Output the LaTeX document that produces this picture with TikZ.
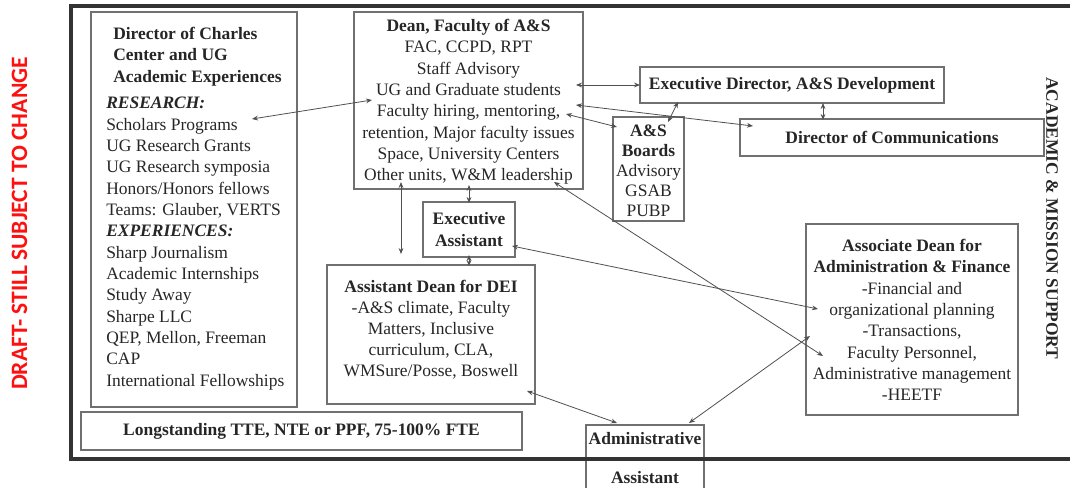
\documentclass[tikz,border=0pt]{standalone}
\usepackage{fontspec}
\setmainfont{Liberation Serif}
\newfontfamily\redfont{Carlito}
\usetikzlibrary{arrows.meta,fit}
\definecolor{boxc}{HTML}{707070}
\definecolor{linec}{HTML}{505050}
\definecolor{txtc}{HTML}{262626}
\definecolor{framec}{HTML}{333333}
\definecolor{draftred}{HTML}{FF1010}
\begin{document}
\begin{tikzpicture}[x=0.75pt,y=-0.75pt,
  box/.style={draw=boxc, line width=0.8pt, inner sep=0pt},
  txt/.style={text=txtc, font=\fontsize{13.1}{16}\selectfont, align=center, inner sep=0pt},
  conn/.style={draw=linec, line width=0.6pt, {Stealth[length=4.5pt,width=3.6pt]}-{Stealth[length=4.5pt,width=3.6pt]}}]
\useasboundingbox (0,0) rectangle (1070,488);

% boxes
\node[box, fit={(91,12) (297,407)}] (charles) {};
\node[box, fit={(354,12) (583,189)}] (dean) {};
\node[box, fit={(640,67) (944,103)}] (execdir) {};
\node[box, fit={(740,119) (1044,156)}] (comm) {};
\node[box, fit={(613,117) (684,221)}] (boards) {};
\node[box, fit={(423,202) (515,257)}] (execasst) {};
\node[box, fit={(327,265) (535,404)}] (dei) {};
\node[box, fit={(806,224) (1018,415)}] (assoc) {};
\node[box, fit={(81,412) (522,450)}] (long) {};
\node[box, fit={(586,425) (704,510)}] (admin) {};

% texts
\node[txt, align=left, anchor=west] (charlest) at (106,208.5) {%
\hspace*{5.25pt}\textbf{Director of Charles}\\
\hspace*{5.25pt}\textbf{Center and UG}\\
\hspace*{5.25pt}\textbf{Academic Experiences}\\[4pt]
\textbf{\textit{RESEARCH:}}\\
Scholars Programs\\
UG Research Grants\\
UG Research symposia\\
Honors/Honors fellows\\
Teams: Glauber, VERTS\\
\textbf{\textit{EXPERIENCES:}}\\
Sharp Journalism\\
Academic Internships\\
Study Away\\
Sharpe LLC\\
QEP, Mellon, Freeman\\
CAP\\
International Fellowships};

\node[txt] (deant) at (468.5,102) {%
\textbf{Dean, Faculty of A\&S}\\
FAC, CCPD, RPT\\
Staff Advisory\\
UG and Graduate students\\
Faculty hiring, mentoring,\\
retention, Major faculty issues\\
Space, University Centers\\
Other units, W\&M leadership};

\node[txt] (execdirt) at (792,85) {\textbf{Executive Director, A\&S Development}};
\node[txt] (commt) at (892,137.5) {\textbf{Director of Communications}};
\node[txt, font=\fontsize{13.1}{15}\selectfont] (boardst) at (648.5,171) {%
\textbf{A\&S}\\ \textbf{Boards}\\ Advisory\\ GSAB\\ PUBP};
\node[txt] (execasstt) at (469,229.5) {\textbf{Executive}\\ \textbf{Assistant}};
\node[txt, font=\fontsize{13.1}{15.8}\selectfont] (deit) at (431,329.5) {%
\textbf{Assistant Dean for DEI}\\
-A\&S climate, Faculty\\
Matters, Inclusive\\
curriculum, CLA,\\
WMSure/Posse, Boswell};
\node[txt] (assoct) at (912,320) {%
\textbf{Associate Dean for}\\
\textbf{Administration \& Finance}\\
-Financial and\\
organizational planning\\
-Transactions,\\
Faculty Personnel,\\
Administrative management\\
-HEETF};
\node[txt] (longt) at (301.5,431) {\textbf{Longstanding TTE, NTE or PPF, 75-100\% FTE}};
\node[txt] (admint) at (645,458) {\textbf{Administrative}\\[13.5pt]\textbf{Assistant}};

\node[txt, rotate=-90, font=\fontsize{13.1}{16}\selectfont\bfseries] (side) at (1052,218.5) {ACADEMIC \& MISSION SUPPORT};
\node[rotate=90, inner sep=0pt, text=draftred, font=\redfont\fontsize{17.6}{20}\selectfont\bfseries] (draft) at (19.5,223.5) {DRAFT- STILL SUBJECT TO CHANGE};

% connector ends
\coordinate (aL) at (252,119); \coordinate (aR) at (372,100);
\coordinate (bL) at (576,85);  \coordinate (bR) at (640,85);
\coordinate (cL) at (576,105); \coordinate (cR) at (753,126);
\coordinate (dL) at (566,114); \coordinate (dR) at (617,127);
\coordinate (eT) at (678,102); \coordinate (eB) at (668,122);
\coordinate (fT) at (823,103); \coordinate (fB) at (823,120);
\coordinate (gT) at (469,185); \coordinate (gB) at (469,203);
\coordinate (hT) at (469,255); \coordinate (hB) at (469,266);
\coordinate (iT) at (401,182); \coordinate (iB) at (401,254);
\coordinate (jL) at (512,246); \coordinate (jR) at (818,309);
\coordinate (kL) at (554,182); \coordinate (kR) at (823,356);
\coordinate (lR) at (810,336); \coordinate (lL) at (689,423);
\coordinate (mL) at (527,391); \coordinate (mR) at (617,423);

\draw[conn] (aL) -- (aR);
\draw[conn] (bL) -- (bR);
\draw[conn] (cL) -- (cR);
\draw[conn] (dL) -- (dR);
\draw[conn] (eT) -- (eB);
\draw[conn] (fT) -- (fB);
\draw[conn] (gT) -- (gB);
\draw[conn] (hT) -- (hB);
\draw[conn] (iT) -- (iB);
\draw[conn] (jL) -- (jR);
\draw[conn] (kL) -- (kR);
\draw[conn] (lR) -- (lL);
\draw[conn] (mL) -- (mR);

% outer frame
\draw[framec, line width=2.3pt] (1100,6) -- (71,6) -- (71,459) -- (1100,459);
\end{tikzpicture}
\end{document}
